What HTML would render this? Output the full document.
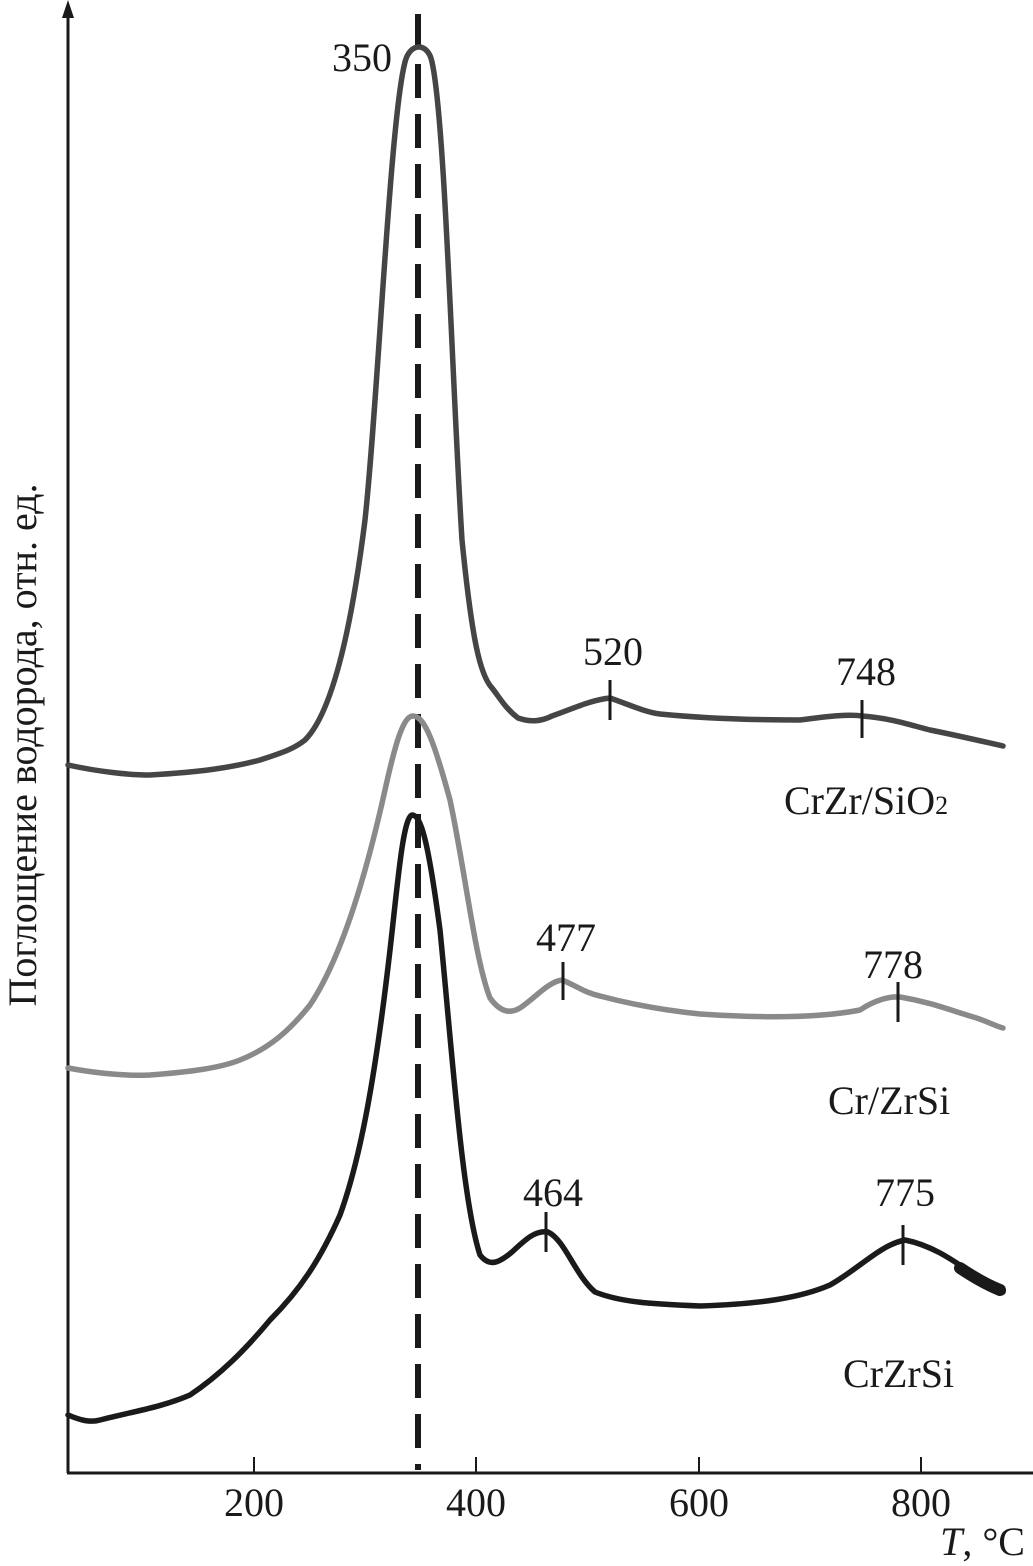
<!DOCTYPE html>
<html><head><meta charset="utf-8"><style>
body{margin:0;background:#fff}
svg{display:block}
text{font-family:"Liberation Serif",serif;font-size:40px;fill:#1a1a1a}
</style></head><body>
<svg width="1033" height="1566" viewBox="0 0 1033 1566" xmlns="http://www.w3.org/2000/svg">
<line x1="68" y1="12" x2="68" y2="1473" stroke="#1a1a1a" stroke-width="3"/>
<polygon points="68,0 62,18 74,18" fill="#1a1a1a"/>
<line x1="67" y1="1473" x2="1033" y2="1473" stroke="#1a1a1a" stroke-width="3"/>
<g stroke="#1a1a1a" stroke-width="2">
<line x1="254" y1="1457" x2="254" y2="1473"/><line x1="476" y1="1457" x2="476" y2="1473"/>
<line x1="699" y1="1457" x2="699" y2="1473"/><line x1="921" y1="1457" x2="921" y2="1473"/></g>
<g text-anchor="middle"><text x="254" y="1516">200</text><text x="476" y="1516">400</text><text x="699" y="1516">600</text><text x="921" y="1516">800</text></g>
<text x="1025" y="1555" text-anchor="end"><tspan font-style="italic">T</tspan>, °C</text>
<text transform="translate(36,745) rotate(-90)" text-anchor="middle" font-size="41">Поглощение водорода, отн. ед.</text>
<line x1="418" y1="14" x2="418" y2="1470" stroke="#1a1a1a" stroke-width="6" stroke-dasharray="34,16"/>
<g fill="none" stroke-linejoin="round" stroke-linecap="round" stroke-width="5.5">
<path stroke="#454545" d="M68,765 C100,772 130,775 150,775 C200,772 230,768 260,760 C285,752 295,748 305,740 C330,715 350,640 365,520 C378,400 390,120 405,62 C410,42 428,42 432,62 C445,120 452,380 462,540 C472,640 480,675 492,688 C500,698 505,708 518,718 C530,722 540,722 552,716 C570,710 590,700 610,698 C630,705 645,712 660,714 C700,718 740,720 800,720 C830,716 850,714 862,716 C890,718 910,725 930,730 C960,736 985,742 1003,746"/>
<path stroke="#8a8a8a" d="M68,1068 C100,1074 130,1076 150,1075 C190,1072 220,1068 240,1060 C270,1048 290,1030 310,1005 C340,960 365,880 385,790 C395,745 403,716 413,716 C425,716 435,745 450,800 C465,870 475,960 490,998 C500,1012 510,1014 520,1008 C535,998 548,982 562,980 C575,985 585,993 600,996 C630,1004 660,1010 700,1014 C760,1018 820,1018 860,1010 C875,1000 890,996 900,997 C930,1002 950,1010 970,1016 C985,1020 995,1026 1003,1028"/>
<path stroke="#1a1a1a" d="M68,1415 C80,1420 90,1423 100,1420 C130,1412 160,1408 190,1395 C220,1375 245,1350 270,1320 C300,1290 320,1260 340,1215 C360,1160 375,1080 390,950 C398,880 403,818 412,815 C421,815 428,840 440,930 C452,1050 462,1200 480,1255 C490,1268 500,1262 512,1252 C525,1240 535,1230 548,1232 C565,1240 575,1275 595,1292 C620,1302 650,1304 700,1306 C760,1304 800,1298 830,1285 C860,1268 880,1245 905,1240 C930,1245 950,1258 970,1272 C985,1282 995,1290 1003,1292"/>
<path stroke="#1a1a1a" stroke-width="12" d="M960,1268 C975,1278 990,1286 1000,1290"/>
</g>
<g stroke="#1a1a1a" stroke-width="3">
<line x1="610" y1="680" x2="610" y2="720"/><line x1="862" y1="700" x2="862" y2="738"/>
<line x1="563" y1="962" x2="563" y2="1000"/><line x1="898" y1="982" x2="898" y2="1022"/>
<line x1="546" y1="1212" x2="546" y2="1252"/><line x1="903" y1="1225" x2="903" y2="1265"/>
</g>
<g text-anchor="middle">
<text x="362" y="71">350</text><text x="613" y="665">520</text><text x="866" y="685">748</text>
<text x="566" y="951">477</text><text x="893" y="978">778</text>
<text x="553" y="1206">464</text><text x="905" y="1206">775</text>
</g>
<text x="784" y="814" font-size="42">CrZr/SiO<tspan font-size="26">2</tspan></text>
<text x="828" y="1114" font-size="42">Cr/ZrSi</text>
<text x="843" y="1387" font-size="42">CrZrSi</text>
</svg>
</body></html>
